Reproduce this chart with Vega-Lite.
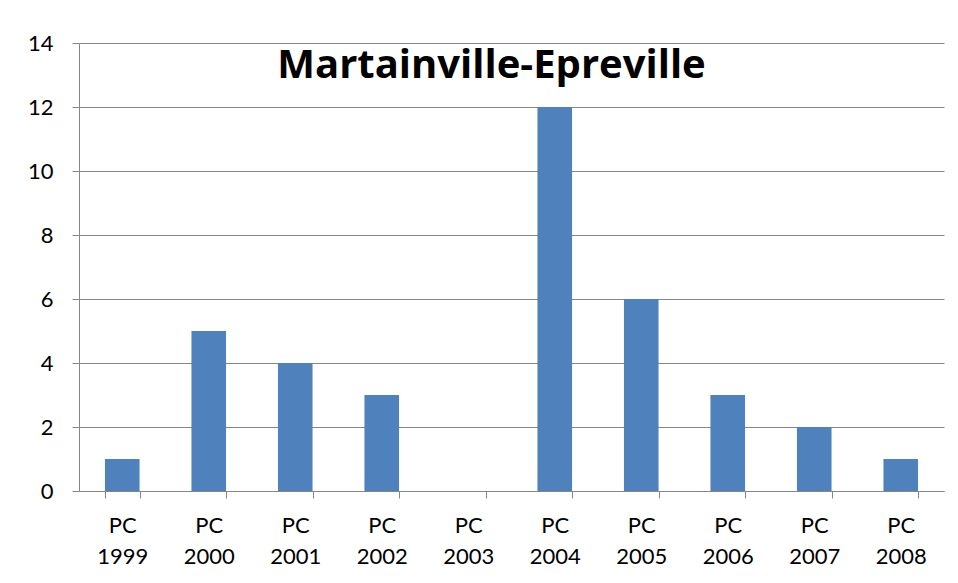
{
  "$schema": "https://vega.github.io/schema/vega-lite/v6.json",
  "width": 865,
  "height": 448,
  "autosize": {"type": "none"},
  "padding": {"left": 79, "top": 43, "right": 14, "bottom": 92},
  "background": "white",
  "data": {
    "values": [
      {"cat": "PC 1999", "v": 1},
      {"cat": "PC 2000", "v": 5},
      {"cat": "PC 2001", "v": 4},
      {"cat": "PC 2002", "v": 3},
      {"cat": "PC 2003", "v": 0},
      {"cat": "PC 2004", "v": 12},
      {"cat": "PC 2005", "v": 6},
      {"cat": "PC 2006", "v": 3},
      {"cat": "PC 2007", "v": 2},
      {"cat": "PC 2008", "v": 1}
    ]
  },
  "layer": [
    {
      "mark": {"type": "bar", "color": "#4F81BD"},
      "encoding": {
        "x": {
          "field": "cat",
          "type": "nominal",
          "sort": null,
          "scale": {"paddingInner": 0.6, "paddingOuter": 0.3},
          "axis": {
            "title": null,
            "labelAngle": 0,
            "labelExpr": "split(datum.label, ' ')",
            "labelFont": "Lato",
            "labelFontSize": 22,
            "labelColor": "#000000",
            "labelLineHeight": 31,
            "labelPadding": 17,
            "tickBand": "extent",
            "tickSize": 7,
            "tickColor": "#868686",
            "domainColor": "#868686",
            "grid": false
          }
        },
        "y": {
          "field": "v",
          "type": "quantitative",
          "scale": {"domain": [0, 14], "nice": false},
          "axis": {
            "title": null,
            "values": [0, 2, 4, 6, 8, 10, 12, 14],
            "labelFont": "Lato",
            "labelFontSize": 22,
            "labelColor": "#000000",
            "labelPadding": 19,
            "tickSize": 7,
            "tickColor": "#868686",
            "domainColor": "#868686",
            "gridColor": "#868686",
            "grid": true
          }
        }
      }
    },
    {
      "data": {"values": [{"t": "Martainville-Epreville"}]},
      "mark": {
        "type": "text",
        "font": "Open Sans",
        "fontSize": 40,
        "fontWeight": "bold",
        "color": "#000000",
        "baseline": "alphabetic",
        "align": "center",
        "dx": -20
      },
      "encoding": {
        "text": {"field": "t"},
        "y": {"datum": 12.9, "type": "quantitative"}
      }
    }
  ],
  "config": {"view": {"stroke": null}}
}
